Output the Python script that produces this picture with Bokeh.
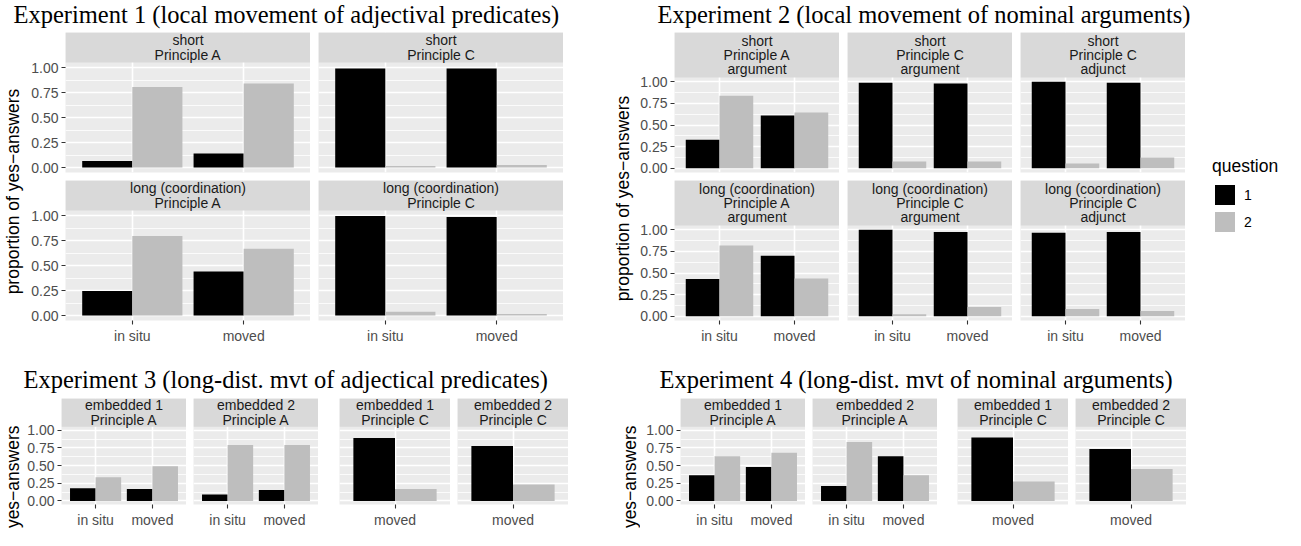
from math import pi
from bokeh.plotting import figure
from bokeh.layouts import row, column
from bokeh.models import (Range1d, FactorRange, FixedTicker, NumeralTickFormatter,
                          Spacer, Legend, LegendItem, ColumnDataSource, BoxAnnotation)
from bokeh.transform import dodge
from bokeh.core.properties import value
from bokeh.embed import file_html
from bokeh.resources import INLINE

# ---------------- data ----------------
conditions = ["in situ", "moved"]
conditions_moved = ["moved"]
questions = ["1", "2"]
y_ticks = [0, 0.25, 0.5, 0.75, 1.0]
y_minor = [0.125, 0.375, 0.625, 0.875]
y_title = "proportion of yes\u2212answers"
y_title_short = "yes\u2212answers"
legend_title = "question"

exp_titles = [
    "Experiment 1 (local movement of adjectival predicates)",
    "Experiment 2 (local movement of nominal arguments)",
    "Experiment 3 (long-dist. mvt of adjectical predicates)",
    "Experiment 4 (long-dist. mvt of nominal arguments)",
]

# Experiment 1 (2 x 2 facets)
e1_facets = ["short\nPrinciple A", "short\nPrinciple C",
             "long (coordination)\nPrinciple A", "long (coordination)\nPrinciple C"]
e1_q1 = [[0.065, 0.14], [0.99, 0.99], [0.245, 0.44], [0.995, 0.985]]
e1_q2 = [[0.805, 0.84], [0.015, 0.024], [0.795, 0.668], [0.038, 0.016]]

# Experiment 2 (2 x 3 facets)
e2_facets = ["short\nPrinciple A\nargument", "short\nPrinciple C\nargument",
             "short\nPrinciple C\nadjunct",
             "long (coordination)\nPrinciple A\nargument",
             "long (coordination)\nPrinciple C\nargument",
             "long (coordination)\nPrinciple C\nadjunct"]
e2_q1 = [[0.33, 0.61], [0.99, 0.98], [1.0, 0.99], [0.43, 0.70], [1.0, 0.975], [0.965, 0.975]]
e2_q2 = [[0.84, 0.645], [0.078, 0.078], [0.054, 0.123], [0.817, 0.437], [0.023, 0.107], [0.082, 0.06]]

# Experiment 3
e3_facets = ["embedded 1\nPrinciple A", "embedded 2\nPrinciple A",
             "embedded 1\nPrinciple C", "embedded 2\nPrinciple C"]
e3_q1 = [[0.18, 0.168], [0.09, 0.155], [0.89], [0.776]]
e3_q2 = [[0.336, 0.49], [0.79, 0.79], [0.168], [0.233]]

# Experiment 4
e4_facets = ["embedded 1\nPrinciple A", "embedded 2\nPrinciple A",
             "embedded 1\nPrinciple C", "embedded 2\nPrinciple C"]
e4_q1 = [[0.364, 0.479], [0.21, 0.631], [0.898], [0.733]]
e4_q2 = [[0.631, 0.682], [0.835, 0.364], [0.275], [0.453]]

# ---------------- style ----------------
SANS = "Liberation Sans"
SERIF = "Liberation Serif"
Q_COLORS = ["black", "#bebebe"]
PANEL_BG = "#ebebeb"
STRIP_BG = "#d9d9d9"
SMALL = "14px"
TITLE_SIZE = "24.5px"
AXIS_TITLE_SIZE = "17.5px"


def style_axis(ax):
    ax.axis_line_color = None
    ax.major_tick_line_color = "#333333"
    ax.major_tick_line_width = 1.1
    ax.major_tick_out = 4
    ax.major_tick_in = 0
    ax.minor_tick_line_color = None
    ax.major_label_text_font = SANS
    ax.major_label_text_font_size = SMALL
    ax.major_label_text_color = "#4d4d4d"
    ax.major_label_standoff = 3


def panel(conds, q1, q2, label, fw, fh, sh, left=0, bottom=0, xaxis=False):
    """One facet: strip (height sh) on top of the data panel (height fh)."""
    ytop = 1.05 + 1.1 * sh / fh
    xr = FactorRange(factors=list(conds), range_padding=0.1,
                     range_padding_units="absolute")
    p = figure(width=fw + left, height=fh + sh + bottom, x_range=xr,
               y_range=Range1d(-0.05, ytop),
               x_axis_location="below" if xaxis else None,
               y_axis_location="left" if left else None,
               output_backend="svg", toolbar_location=None,
               min_border=0, min_border_left=left, min_border_right=0,
               min_border_top=0, min_border_bottom=bottom,
               background_fill_color=PANEL_BG, border_fill_color="white",
               outline_line_color=None)
    tick = FixedTicker(ticks=y_ticks, minor_ticks=y_minor)
    p.xgrid.grid_line_color = "white"
    p.xgrid.grid_line_width = 1.6
    p.ygrid.ticker = tick
    p.ygrid.grid_line_color = "white"
    p.ygrid.grid_line_width = 1.6
    p.ygrid.minor_grid_line_color = "white"
    p.ygrid.minor_grid_line_width = 0.8
    if left:
        p.yaxis.ticker = tick
        p.yaxis.formatter = NumeralTickFormatter(format="0.00")
        style_axis(p.yaxis[0])
    if xaxis:
        style_axis(p.xaxis[0])
    # facet strip
    p.add_layout(BoxAnnotation(bottom=1.05, top=ytop, fill_color=STRIP_BG,
                               fill_alpha=1.0, line_color=None, level="underlay"))
    p.text(x=[len(conds) / 2], y=[(1.05 + ytop) / 2], text=[label],
           text_align="center", text_baseline="middle",
           text_font=value(SANS), text_font_size=SMALL, text_color="#1a1a1a",
           text_line_height=0.9)
    src = ColumnDataSource(dict(cond=list(conds), q1=q1, q2=q2))
    p.vbar(x=dodge("cond", -0.225, range=xr), top="q1", width=0.45, source=src,
           fill_color=Q_COLORS[0], line_color=None)
    p.vbar(x=dodge("cond", 0.225, range=xr), top="q2", width=0.45, source=src,
           fill_color=Q_COLORS[1], line_color=None)
    return p


def text_fig(w, h, x, y, text, size, font=SANS, angle=0.0, align="left",
             baseline="middle", color="black"):
    p = figure(width=w, height=h, x_range=Range1d(0, w), y_range=Range1d(h, 0),
               x_axis_location=None, y_axis_location=None,
               output_backend="svg", toolbar_location=None,
               min_border=0, background_fill_color="white",
               border_fill_color="white", outline_line_color=None)
    p.grid.visible = False
    p.text(x=[x], y=[y], text=[text], angle=angle, text_align=align,
           text_baseline=baseline, text_font=value(font), text_font_size=size,
           text_color=color)
    return p


def facet_col(labels, conds, q1s, q2s, fw, sh, fh, gap, left, bottom):
    """Vertical stack of facets; only the last one gets the x axis."""
    kids = []
    n = len(labels)
    pad = 4  # room under upper panels for the "0.00" tick label
    for i in range(n):
        last = (i == n - 1)
        if i > 0:
            kids.append(Spacer(width=fw + left, height=gap - pad))
        kids.append(panel(conds, q1s[i], q2s[i], labels[i], fw, fh, sh, left,
                          bottom if last else pad, xaxis=last))
    return column(*kids, spacing=0)


# ---------------- Experiment 1 ----------------
e1_title = text_fig(610, 32, 13, 14, exp_titles[0], TITLE_SIZE, font=SERIF)
e1_yt = text_fig(24, 314, 12, 159, y_title, AXIS_TITLE_SIZE, angle=pi / 2, align="center")
e1_colA = facet_col([e1_facets[0], e1_facets[2]], conditions,
                    [e1_q1[0], e1_q1[2]], [e1_q2[0], e1_q2[2]],
                    245, 30, 110, 8, 41, 26)
e1_colC = facet_col([e1_facets[1], e1_facets[3]], conditions,
                    [e1_q1[1], e1_q1[3]], [e1_q2[1], e1_q2[3]],
                    245, 30, 110, 8, 0, 26)
e1 = column(e1_title, row(e1_yt, e1_colA, Spacer(width=8, height=10), e1_colC, spacing=0), spacing=0)

# ---------------- Experiment 3 ----------------
E34_TITLE_H = 52
E34_STRIP = 29
E34_PANEL = 80
E34_BOTTOM = 23
E34_BODY = E34_STRIP + E34_PANEL + E34_BOTTOM

e3_title = text_fig(610, E34_TITLE_H, 23, 33, exp_titles[2], TITLE_SIZE, font=SERIF)
e3_yt = text_fig(24, E34_BODY, 12, 27, y_title_short, AXIS_TITLE_SIZE, angle=pi / 2, align="right")
e3_cols = [
    facet_col([e3_facets[0]], conditions, [e3_q1[0]], [e3_q2[0]], 125, E34_STRIP, E34_PANEL, 0, 37, E34_BOTTOM),
    Spacer(width=7, height=10),
    facet_col([e3_facets[1]], conditions, [e3_q1[1]], [e3_q2[1]], 125, E34_STRIP, E34_PANEL, 0, 0, E34_BOTTOM),
    Spacer(width=21, height=10),
    facet_col([e3_facets[2]], conditions_moved, [e3_q1[2]], [e3_q2[2]], 111, E34_STRIP, E34_PANEL, 0, 0, E34_BOTTOM),
    Spacer(width=7, height=10),
    facet_col([e3_facets[3]], conditions_moved, [e3_q1[3]], [e3_q2[3]], 111, E34_STRIP, E34_PANEL, 0, 0, E34_BOTTOM),
]
e3 = column(e3_title, row(e3_yt, *e3_cols, spacing=0), spacing=0)

left_col = column(e1, e3, spacing=0)

# ---------------- Experiment 2 ----------------
e2_title = text_fig(660, 32, 47, 14, exp_titles[1], TITLE_SIZE, font=SERIF)
e2_yt = text_fig(24, 314, 12, 166, y_title, AXIS_TITLE_SIZE, angle=pi / 2, align="center")
e2_cols = []
for j in range(3):
    if j > 0:
        e2_cols.append(Spacer(width=8, height=10))
    e2_cols.append(facet_col([e2_facets[j], e2_facets[j + 3]], conditions,
                             [e2_q1[j], e2_q1[j + 3]], [e2_q2[j], e2_q2[j + 3]],
                             165, 45, 95, 8, 40 if j == 0 else 0, 26))

leg = figure(width=78, height=314, x_range=Range1d(0, 1), y_range=Range1d(0, 1),
             x_axis_location=None, y_axis_location=None,
             output_backend="svg", toolbar_location=None, min_border=0,
             background_fill_color="white", border_fill_color="white",
             outline_line_color=None)
leg.grid.visible = False
leg_src = ColumnDataSource(dict(q=[-5.0], v=[0.0]))
r1 = leg.vbar(x="q", top="v", width=0.1, source=leg_src, fill_color=Q_COLORS[0], line_color=None)
r2 = leg.vbar(x="q", top="v", width=0.1, source=leg_src, fill_color=Q_COLORS[1], line_color=None)
legend = Legend(items=[LegendItem(label=questions[0], renderers=[r1], index=0),
                       LegendItem(label=questions[1], renderers=[r2], index=0)],
                title=legend_title, location=(7, 112), orientation="vertical",
                glyph_width=25, glyph_height=25, label_height=25, spacing=2,
                padding=0, margin=0, label_standoff=7,
                border_line_color=None, background_fill_alpha=0,
                label_text_font=SANS, label_text_font_size=SMALL,
                label_text_color="black",
                title_text_font=SANS, title_text_font_size=AXIS_TITLE_SIZE,
                title_text_font_style="normal", title_text_color="black",
                title_standoff=5)
leg.add_layout(legend, "center")

e2 = column(e2_title, row(e2_yt, *e2_cols, Spacer(width=20, height=10), leg, spacing=0), spacing=0)

# ---------------- Experiment 4 ----------------
e4_title = text_fig(660, E34_TITLE_H, 49, 33, exp_titles[3], TITLE_SIZE, font=SERIF)
e4_yt = text_fig(30, E34_BODY, 19, 27, y_title_short, AXIS_TITLE_SIZE, angle=pi / 2, align="right")
e4_cols = [
    facet_col([e4_facets[0]], conditions, [e4_q1[0]], [e4_q2[0]], 125, E34_STRIP, E34_PANEL, 0, 40, E34_BOTTOM),
    Spacer(width=7, height=10),
    facet_col([e4_facets[1]], conditions, [e4_q1[1]], [e4_q2[1]], 125, E34_STRIP, E34_PANEL, 0, 0, E34_BOTTOM),
    Spacer(width=20, height=10),
    facet_col([e4_facets[2]], conditions_moved, [e4_q1[2]], [e4_q2[2]], 111, E34_STRIP, E34_PANEL, 0, 0, E34_BOTTOM),
    Spacer(width=7, height=10),
    facet_col([e4_facets[3]], conditions_moved, [e4_q1[3]], [e4_q2[3]], 111, E34_STRIP, E34_PANEL, 0, 0, E34_BOTTOM),
]
e4 = column(e4_title, row(e4_yt, *e4_cols, spacing=0), spacing=0)

right_col = column(e2, e4, spacing=0)

page = row(left_col, right_col, spacing=0)

open("out.html", "w").write(file_html(page, INLINE))
